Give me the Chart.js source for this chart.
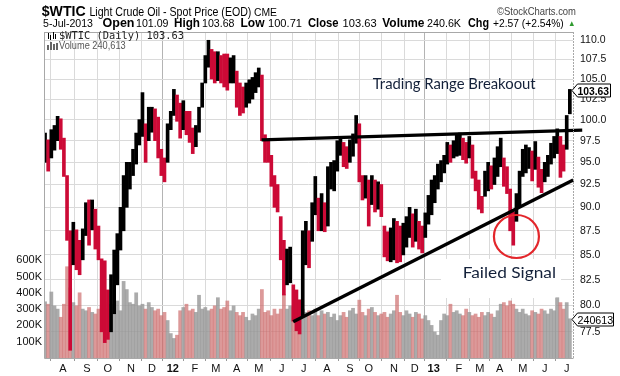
<!DOCTYPE html>
<html>
<head>
<meta charset="utf-8">
<script src="https://cdn.jsdelivr.net/npm/chart.js@4.4.1/dist/chart.umd.min.js"></script>
<style>
  html, body { margin: 0; padding: 0; background: #fff; }
</style>
</head>
<body>
<canvas id="wtic" width="620" height="376"></canvas>
<script>
// $WTIC daily, one bar per 3 trading days (Jul 2011 - Jul 2013)
const barDays = 3;
const priceLo = [
  95.0, 94.0, 95.5, 96.4, 97.5, 96.5, 93.4, 86.5, 75.8, 84.0,
  83.5, 83.0, 84.5, 87.0, 86.0, 87.6, 85.6, 84.5, 77.5, 76.5,
  76.8, 77.5, 79.2, 82.0, 85.5, 87.5, 90.0, 92.0, 93.5, 94.8,
  97.0, 98.0, 95.0, 97.5, 98.5, 97.5, 95.5, 93.5, 92.8, 95.0,
  98.8, 100.5, 99.8, 97.8, 98.8, 98.2, 97.3, 96.0, 96.8, 98.5,
  101.5, 104.5, 106.5, 105.0, 104.5, 104.8, 104.5, 104.0, 103.6, 104.5,
  104.5, 101.5, 100.5, 100.8, 101.5, 102.0, 102.5, 103.3, 104.0, 97.5,
  95.0, 95.0, 92.3, 90.0, 89.5, 84.5, 81.0, 82.0, 82.2, 78.5,
  77.6, 77.3, 79.0, 84.0, 83.7, 86.4, 89.2, 87.5, 87.5, 87.4,
  88.0, 92.0, 91.8, 94.0, 95.8, 94.5, 94.3, 95.0, 95.7, 97.2,
  92.8, 90.8, 91.0, 88.0, 90.3, 89.5, 89.8, 89.0, 84.8, 84.4,
  84.3, 84.5, 84.2, 84.3, 85.0, 85.8, 86.8, 85.8, 86.4, 85.6,
  85.2, 86.8, 88.2, 89.2, 90.5, 92.0, 92.8, 93.8, 94.8, 95.0,
  95.5, 95.7, 95.8, 95.3, 94.9, 95.5, 93.2, 91.8, 89.8, 89.4,
  91.2, 91.8, 92.0, 92.5, 93.4, 94.5, 92.3, 91.5, 87.5, 86.0,
  88.5, 90.0, 93.4, 93.8, 94.3, 92.9, 94.2, 92.2, 91.6, 92.8,
  93.4, 94.8, 95.5, 96.0, 93.3, 94.0, 96.5, 100.7
];
const priceHi = [
  98.4, 97.6, 98.8, 99.3, 100.4, 100.1, 97.8, 93.5, 87.5, 88.4,
  87.6, 86.5, 87.7, 90.5, 90.8, 90.8, 89.8, 88.0, 84.6, 84.4,
  81.5, 83.0, 85.5, 87.2, 90.0, 93.5, 95.0, 95.0, 96.5, 98.4,
  100.0, 103.3, 99.5, 101.5, 101.5, 101.3, 100.3, 96.5, 95.5, 99.5,
  101.0, 103.7, 103.0, 102.0, 102.3, 101.0, 101.0, 99.0, 99.3, 101.5,
  104.5, 108.0, 110.0, 108.8, 108.5, 108.5, 108.0, 108.2, 108.2, 107.7,
  108.0, 106.0, 104.5, 104.0, 104.5, 104.9, 105.2, 105.8, 106.4, 105.5,
  98.2, 97.6, 95.8, 93.5, 92.5, 89.0, 86.5, 85.6, 85.8, 82.0,
  81.5, 80.5, 87.5, 88.5, 87.5, 90.5, 93.4, 91.0, 91.5, 90.5,
  94.5, 95.0, 95.2, 97.5, 98.0, 97.3, 96.8, 97.6, 98.3, 100.5,
  99.5, 93.5, 93.5, 93.0, 93.5, 93.0, 92.8, 92.5, 88.0, 87.4,
  87.8, 88.8, 88.5, 88.0, 88.3, 89.0, 90.0, 89.3, 89.8, 88.5,
  88.0, 89.4, 91.3, 93.0, 93.5, 94.8, 95.2, 95.8, 97.3, 97.0,
  97.5, 98.3, 98.4, 97.8, 97.3, 98.0, 97.0, 94.0, 93.0, 91.2,
  94.0, 95.0, 94.6, 95.5, 96.8, 97.8, 95.5, 94.5, 92.0, 89.5,
  91.5, 94.0, 96.5, 97.0, 96.7, 96.3, 97.4, 95.6, 94.2, 95.0,
  95.8, 97.2, 98.0, 98.9, 98.0, 97.0, 100.5, 103.7
];
// volume in thousands
const volume = [
  345, 330, 405, 320, 300, 250, 330, 560, 430, 340,
  320, 400, 300, 290, 310, 280, 270, 300, 320, 340,
  300, 330, 310, 350, 290, 470, 420, 340, 330, 400,
  320, 330, 300, 340, 310, 290, 300, 260, 280, 230,
  150, 120, 140, 290, 310, 330, 290, 300, 280, 385,
  300, 310, 290, 300, 320, 370, 300, 310, 350, 290,
  320, 280, 260, 280, 250, 230, 270, 260, 300, 420,
  280, 290, 260, 300, 270, 300, 390, 300, 320, 310,
  340, 360, 300, 280, 290, 260, 300, 260, 290, 270,
  280, 250, 270, 230, 260, 280, 250, 290, 305, 270,
  355, 280, 260, 300, 310, 280, 260, 270, 280, 250,
  270, 290, 385, 280, 260, 290, 270, 250, 280, 270,
  240, 260, 230, 200, 160, 140, 230, 270, 260, 330,
  280, 290, 270, 260, 300, 280, 260, 270, 250, 280,
  260, 280, 270, 250, 290, 330, 340, 320, 350, 330,
  300, 280, 300, 270, 260, 290, 280, 270, 300, 290,
  270, 300, 290, 370, 340, 300, 340, 240.613
];
// month starts, in trading days from the first bar
const monthTicks = [18, 41, 61, 83, 103, 123, 144, 164, 184, 205, 227, 248,
                    270, 292, 310, 334, 354, 372, 396, 416, 435, 457, 478, 499];
const monthLabels = ['A', 'S', 'O', 'N', 'D', '12', 'F', 'M', 'A', 'M', 'J', 'J',
                     'A', 'S', 'O', 'N', 'D', '13', 'F', 'M', 'A', 'M', 'J', 'J'];
const priceTicks = [77.5, 80, 82.5, 85, 87.5, 90, 92.5, 95, 97.5, 100, 102.5, 105, 107.5, 110];
const volTicks = [100, 200, 300, 400, 500, 600];
// hand-drawn trend lines [trading day, price]
const resistance = [[207.7, 97.6], [513.8, 98.75]];
const support = [[237.9, 78.45], [505.2, 93.0]];
const failedDip = [451, 86.9];
const lastClose = 103.63;
const lastVolume = 240.613;

const FONT = '"Liberation Sans", Arial, sans-serif';
const RED = '#cc0a36';

const xOf = i => i * barDays + 1;
const isDown = priceLo.map((lo, i) => i > 0 && lo + priceHi[i] < priceLo[i - 1] + priceHi[i - 1]);

function fitText(ctx, s, x, y, font, w, color) {
  ctx.save();
  ctx.font = font;
  ctx.fillStyle = color || '#000';
  ctx.textBaseline = 'alphabetic';
  ctx.textAlign = 'left';
  const m = ctx.measureText(s).width;
  ctx.translate(x, y);
  if (w) ctx.scale(w / m, 1);
  ctx.fillText(s, 0, 0);
  ctx.restore();
}

const decor = {
  id: 'decor',
  beforeDraw(chart) {
    const ctx = chart.ctx;
    ctx.save();
    ctx.fillStyle = '#fff';
    ctx.fillRect(0, 0, chart.width, chart.height);
    ctx.restore();
  },
  beforeDatasetsDraw(chart) {
    // white label box behind "Failed Signal"
    const ctx = chart.ctx;
    ctx.save();
    ctx.fillStyle = '#fff';
    ctx.fillRect(441, 259, 120, 39);
    ctx.restore();
  },
  afterDraw(chart) {
    const ctx = chart.ctx;
    const a = chart.chartArea;
    const sx = chart.scales.x, sp = chart.scales.price, sv = chart.scales.vol;

    // frame
    ctx.save();
    ctx.strokeStyle = '#a8a8a8';
    ctx.lineWidth = 1;
    ctx.beginPath();
    ctx.moveTo(a.left + 0.5, a.top + 0.5);
    ctx.lineTo(a.right + 0.5, a.top + 0.5);
    ctx.moveTo(a.left + 0.5, a.top);
    ctx.lineTo(a.left + 0.5, a.bottom + 0.5);
    ctx.lineTo(a.right + 0.5, a.bottom + 0.5);
    ctx.stroke();
    ctx.setLineDash([2, 1]);
    ctx.beginPath();
    ctx.moveTo(a.right + 0.5, a.top);
    ctx.lineTo(a.right + 0.5, a.bottom);
    ctx.stroke();
    ctx.restore();

    // header
    fitText(ctx, '$WTIC', 41.7, 15.5, 'bold 15px ' + FONT, 44);
    fitText(ctx, 'Light Crude Oil - Spot Price (EOD)', 89.4, 15.5, '12px ' + FONT, 162);
    fitText(ctx, 'CME', 254, 15.5, '10px ' + FONT, 23);
    fitText(ctx, '\u00a9StockCharts.com', 497, 14.5, '10.5px ' + FONT, 79, '#444');
    const y2 = 27;
    fitText(ctx, '5-Jul-2013', 43, y2, '11px ' + FONT, 50);
    fitText(ctx, 'Open', 102.5, y2, 'bold 12px ' + FONT, 32);
    fitText(ctx, '101.09', 136, y2, '11px ' + FONT, 32.5);
    fitText(ctx, 'High', 174, y2, 'bold 12px ' + FONT, 26);
    fitText(ctx, '103.68', 202, y2, '11px ' + FONT, 32.5);
    fitText(ctx, 'Low', 240.5, y2, 'bold 12px ' + FONT, 24);
    fitText(ctx, '100.71', 268, y2, '11px ' + FONT, 34);
    fitText(ctx, 'Close', 308, y2, 'bold 12px ' + FONT, 30.6);
    fitText(ctx, '103.63', 342.6, y2, '11px ' + FONT, 34);
    fitText(ctx, 'Volume', 382.3, y2, 'bold 12px ' + FONT, 42.2);
    fitText(ctx, '240.6K', 427, y2, '11px ' + FONT, 34);
    fitText(ctx, 'Chg', 468, y2, 'bold 12px ' + FONT, 21);
    fitText(ctx, '+2.57 (+2.54%)', 493, y2, '11px ' + FONT, 70.7);
    fitText(ctx, '\u25b2', 568, y2 - 1, '8px ' + FONT, 7.5, '#2e9a2e');

    // in-panel legend
    ctx.save();
    ctx.fillStyle = '#000';
    [[48, 33, 6], [50, 35, 5], [53, 32, 7], [55, 34, 5]].forEach(r => ctx.fillRect(r[0], r[1], 1, r[2]));
    ctx.fillStyle = '#666';
    [[47, 45, 2, 5], [50, 42, 2, 8], [53, 44, 2, 6], [56, 43, 2, 7]].forEach(r => ctx.fillRect(r[0], r[1], r[2], r[3]));
    ctx.restore();
    fitText(ctx, '$WTIC (Daily) 103.63', 59, 39.3, '10.5px "DejaVu Sans Mono", monospace', 125, '#222');
    fitText(ctx, 'Volume 240,613', 59, 49.3, '10.5px ' + FONT, 66.7, '#555');

    // annotations
    fitText(ctx, 'Trading Range Breakoout', 372.7, 89, '16px Lato, "Open Sans", sans-serif', 163, '#14213a');
    fitText(ctx, 'Failed Signal', 462.7, 277.5, '16px Lato, "Open Sans", sans-serif', 93.3, '#14213a');
    const cx = sx.getPixelForValue(failedDip[0]), cy = sp.getPixelForValue(failedDip[1]);
    ctx.save();
    ctx.strokeStyle = '#e3262b';
    ctx.lineWidth = 2.2;
    ctx.beginPath();
    ctx.ellipse(cx, cy, 22.5, 21.5, 0, 0, Math.PI * 2);
    ctx.stroke();
    ctx.restore();

    // last value tags
    const tag = (y, text, font, w, x1) => {
      ctx.save();
      ctx.fillStyle = '#fff';
      ctx.strokeStyle = '#000';
      ctx.lineWidth = 1;
      ctx.beginPath();
      ctx.moveTo(a.right - 1, y);
      ctx.lineTo(a.right + 4.5, y - 6.5);
      ctx.lineTo(x1, y - 6.5);
      ctx.lineTo(x1, y + 6.5);
      ctx.lineTo(a.right + 4.5, y + 6.5);
      ctx.closePath();
      ctx.fill();
      ctx.stroke();
      ctx.restore();
      fitText(ctx, text, a.right + 4.5, y + 4, font, w);
    };
    tag(Math.round(sp.getPixelForValue(lastClose)) + 0.5, '103.63', 'bold 11px ' + FONT, 31.6, 610.5);
    tag(Math.round(sv.getPixelForValue(lastVolume)) + 0.5, '240613', '11px ' + FONT, 35.7, 613.5);
  }
};

const chart = new Chart(document.getElementById('wtic'), {
  type: 'bar',
  data: {
    datasets: [
      {
        type: 'line',
        data: resistance.map(p => ({ x: p[0], y: p[1] })),
        yAxisID: 'price',
        borderColor: '#000',
        borderWidth: 3.2,
        pointRadius: 0,
        clip: { left: 0, top: 0, right: 12, bottom: 0 },
        order: 1
      },
      {
        type: 'line',
        data: support.map(p => ({ x: p[0], y: p[1] })),
        yAxisID: 'price',
        borderColor: '#000',
        borderWidth: 3.4,
        pointRadius: 0,
        clip: { left: 0, top: 0, right: 4, bottom: 0 },
        order: 1
      },
      {
        data: priceLo.map((lo, i) => ({ x: xOf(i), y: [lo, priceHi[i]] })),
        yAxisID: 'price',
        backgroundColor: isDown.map(d => d ? RED : '#000'),
        barThickness: 3,
        grouped: false,
        order: 2
      },
      {
        data: volume.map((v, i) => ({ x: xOf(i), y: v })),
        yAxisID: 'vol',
        backgroundColor: isDown.map(d => d ? 'rgba(205,110,110,0.7)' : 'rgba(150,150,150,0.8)'),
        barThickness: 3.1,
        grouped: false,
        order: 3
      }
    ]
  },
  options: {
    responsive: false,
    animation: false,
    events: [],
    layout: { padding: { top: 32, left: 0, right: 0, bottom: 0 } },
    plugins: { legend: { display: false }, tooltip: { enabled: false } },
    scales: {
      x: {
        type: 'linear',
        min: 0,
        max: 505,
        offset: false,
        afterBuildTicks: s => { s.ticks = monthTicks.map(v => ({ value: v })); },
        afterFit: s => { s.height = 18; },
        border: { display: false },
        grid: {
          color: c => (c.index === 5 || c.index === 17) ? '#b4b4b4' : '#dadada',
          tickColor: '#999',
          tickLength: 3
        },
        ticks: {
          autoSkip: false,
          maxRotation: 0,
          padding: 1,
          color: '#111',
          font: c => ({ family: FONT, size: 11, weight: (c.index === 5 || c.index === 17) ? 'bold' : 'normal' }),
          callback: (v, i) => monthLabels[i]
        }
      },
      price: {
        type: 'logarithmic',
        position: 'right',
        min: 75.1,
        max: 111.1,
        afterBuildTicks: s => { s.ticks = priceTicks.map(v => ({ value: v })); },
        afterFit: s => { s.width = 47; },
        border: { display: false },
        grid: { color: '#dadada', drawTicks: false },
        ticks: {
          padding: 7,
          color: '#111',
          font: { family: FONT, size: 10.5 },
          callback: v => Number(v).toFixed(1)
        }
      },
      vol: {
        type: 'linear',
        position: 'left',
        min: 0,
        max: 2000,
        afterBuildTicks: s => { s.ticks = volTicks.map(v => ({ value: v })); },
        afterFit: s => { s.width = 44; },
        border: { display: false },
        grid: { display: false, drawTicks: false },
        ticks: {
          padding: 2,
          color: '#111',
          font: { family: FONT, size: 11 },
          callback: v => v + 'K'
        }
      }
    }
  },
  plugins: [decor]
});
</script>
</body>
</html>
